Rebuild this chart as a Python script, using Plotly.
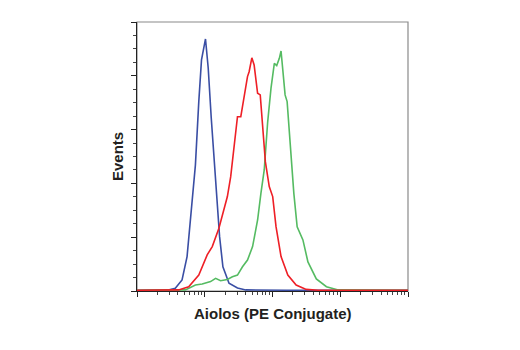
import plotly.graph_objects as go

# log10 of intensity (x) and percent of max events (y)
blue_logx = [1.0, 1.461, 1.565, 1.665, 1.739, 1.803, 1.862, 1.912, 1.952, 2.011, 2.051, 2.096,
             2.141, 2.170, 2.219, 2.268, 2.358, 2.483, 2.606, 3.2, 4.0, 5.0]
blue_y = [0.3, 0.4, 1.0, 4.1, 12.8, 30.1, 46.8, 70.4, 85.9, 93.7, 82.9, 64.3,
          46.8, 36.4, 20.2, 9.0, 2.9, 1.1, 0.4, 0.3, 0.3, 0.3]

green_logx = [1.0, 1.714, 1.862, 1.962, 2.086, 2.160, 2.234, 2.334, 2.408, 2.483, 2.557, 2.631,
              2.706, 2.780, 2.829, 2.878, 2.929, 2.978, 3.027, 3.062, 3.101, 3.126, 3.152,
              3.186, 3.216, 3.250, 3.280, 3.315, 3.364, 3.449, 3.523, 3.647, 3.796, 3.870,
              3.970, 5.0]
green_y = [0.3, 0.4, 2.2, 2.6, 3.5, 4.7, 3.8, 4.3, 5.3, 5.9, 9.0, 11.5,
           16.5, 26.4, 36.3, 45.0, 62.9, 75.4, 84.6, 83.8, 86.5, 89.2, 82.2,
           72.9, 70.4, 58.0, 47.5, 36.3, 23.9, 19.0, 10.8, 4.5, 1.6, 1.0,
           0.4, 0.3]

red_logx = [1.0, 1.614, 1.763, 1.912, 2.036, 2.111, 2.209, 2.283, 2.334, 2.383, 2.408, 2.483,
            2.532, 2.581, 2.631, 2.655, 2.695, 2.729, 2.780, 2.819, 2.854, 2.895, 2.952,
            3.003, 3.052, 3.126, 3.226, 3.349, 3.498, 3.672, 5.0]
red_y = [0.3, 0.4, 1.6, 5.9, 13.4, 16.5, 23.3, 30.1, 35.1, 42.5, 47.6, 64.8,
         64.8, 72.9, 79.7, 81.5, 86.7, 84.0, 73.5, 72.9, 62.9, 48.0, 38.8,
         35.1, 23.9, 12.8, 5.9, 2.2, 0.6, 0.3, 0.3]

x_title = "Aiolos (PE Conjugate)"
y_title = "Events"

fig = go.Figure()
for lx, yv, col in [(blue_logx, blue_y, "#3a4ea4"),
                    (green_logx, green_y, "#55bb62"),
                    (red_logx, red_y, "#ee1f26")]:
    fig.add_trace(go.Scatter(x=[10 ** v for v in lx], y=yv, mode="lines",
                             line=dict(color=col, width=1.6), showlegend=False,
                             hoverinfo="skip", cliponaxis=False))

minor_x = [m * 10 ** d for d in range(1, 5) for m in range(2, 10)]
title_font = dict(family="Liberation Sans, Arial", size=15, color="#231f20")

fig.update_layout(
    width=520, height=350,
    margin=dict(l=137, r=112, t=22, b=59),
    paper_bgcolor="white", plot_bgcolor="white",
    xaxis=dict(type="log", range=[1, 5], showgrid=False, zeroline=False,
               showline=True, linecolor="#222", linewidth=1.3,
               tickvals=[10, 100, 1000, 10000, 100000], ticks="outside",
               ticklen=5, tickwidth=1.3, tickcolor="#222", showticklabels=False,
               minor=dict(tickvals=minor_x, ticks="outside", ticklen=3,
                          tickwidth=1, tickcolor="#444", showgrid=False),
               layer="below traces"),
    yaxis=dict(range=[0, 100], showgrid=False, zeroline=False,
               showline=True, linecolor="#222", linewidth=1.3,
               tickvals=[0, 20, 40, 60, 80, 100], ticks="outside",
               ticklen=5, tickwidth=1.3, tickcolor="#222", showticklabels=False,
               minor=dict(dtick=5, ticks="outside", ticklen=3,
                          tickwidth=1, tickcolor="#444", showgrid=False),
               layer="below traces"),
    shapes=[dict(type="rect", xref="paper", yref="paper", x0=0, x1=1, y0=0, y1=1,
                 line=dict(color="#8a8a8a", width=1.2), layer="below")],
    annotations=[
        dict(text="<b>" + x_title + "</b>", xref="paper", yref="paper",
             x=0.5, y=-0.085, xanchor="center", yanchor="middle", showarrow=False,
             font=title_font),
        dict(text="<b>" + y_title + "</b>", xref="paper", yref="paper",
             x=-0.072, y=0.5, xanchor="center", yanchor="middle", textangle=-90,
             showarrow=False, font=title_font),
    ],
)

fig.write_html("out.html")
